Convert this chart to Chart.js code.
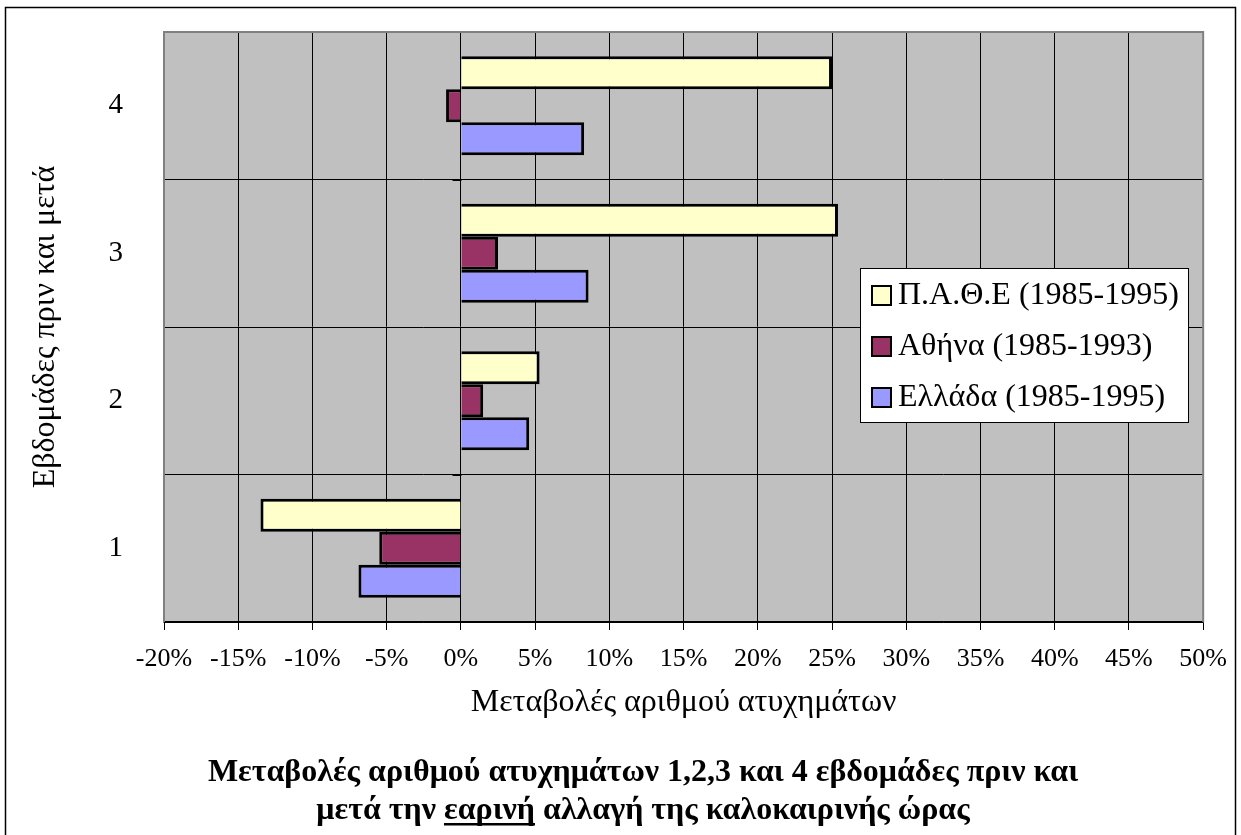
<!DOCTYPE html>
<html>
<head>
<meta charset="utf-8">
<script src="https://cdn.jsdelivr.net/npm/chart.js@4.4.1/dist/chart.umd.min.js"></script>
<style>
  html, body { margin: 0; padding: 0; background: #fff; }
  #wrap { width: 1241px; height: 835px; position: relative; }
</style>
</head>
<body>
<div id="wrap"><canvas id="chart" width="1241" height="835"></canvas></div>
<script>
// Data
const weeks = ['1', '2', '3', '4'];
const pathe = [-13.5, 5.3, 25.4, 25.0];   // Π.Α.Θ.Ε (1985-1995)
const athens = [-5.5, 1.5, 2.5, -1.0];    // Αθήνα (1985-1993)
const greece = [-6.9, 4.6, 8.6, 8.3];     // Ελλάδα (1985-1995)
const seriesNames = ['Π.Α.Θ.Ε (1985-1995)', 'Αθήνα (1985-1993)', 'Ελλάδα (1985-1995)'];
const xMin = -20, xMax = 50, xStep = 5;

const xTitle = 'Μεταβολές αριθμού ατυχημάτων';
const yTitle = 'Εβδομάδες πριν και μετά';
const titleLine1 = 'Μεταβολές αριθμού ατυχημάτων 1,2,3 και 4 εβδομάδες πριν και';
const titleLine2 = ['μετά την ', 'εαρινή', ' αλλαγή της καλοκαιρινής ώρας'];

const SERIF = "'Liberation Serif', 'Times New Roman', serif";

// Plot background + frame
const backdrop = {
    id: 'backdrop',
    beforeDraw(chart) {
        const { ctx, chartArea: a } = chart;
        ctx.save();
        ctx.fillStyle = '#fff';
        ctx.fillRect(0, 0, chart.width, chart.height);
        ctx.strokeStyle = '#000';
        ctx.lineWidth = 1.5;
        ctx.strokeRect(5.5, 7.5, 1230, 840);
        ctx.fillStyle = '#c0c0c0';
        ctx.fillRect(a.left, a.top, a.right - a.left, a.bottom - a.top);
        ctx.restore();
    },
    afterDatasetsDraw(chart) {
        const { ctx, chartArea: a, scales } = chart;
        ctx.save();
        // plot border (grey) on top, left, right
        ctx.strokeStyle = '#808080';
        ctx.lineWidth = 2;
        ctx.beginPath();
        ctx.moveTo(a.left, a.bottom);
        ctx.lineTo(a.left, a.top);
        ctx.lineTo(a.right, a.top);
        ctx.lineTo(a.right, a.bottom);
        ctx.stroke();
        // category axis crosses at 0: small ticks at band boundaries
        const x0 = Math.round(scales.x.getPixelForValue(0)) + 0.5;
        const band = (a.bottom - a.top) / weeks.length;
        ctx.strokeStyle = '#000';
        ctx.lineWidth = 1;
        ctx.beginPath();
        for (let i = 1; i < weeks.length; i++) {
            const y = Math.round(a.top + i * band) + 0.5;
            ctx.moveTo(x0 - 9, y);
            ctx.lineTo(x0, y);
        }
        ctx.stroke();
        ctx.restore();
    }
};

// Legend box inside plot
const boxLegend = {
    id: 'boxLegend',
    afterDraw(chart) {
        const { ctx } = chart;
        const bx = 860, by = 268, bw = 328, bh = 154;
        ctx.save();
        ctx.fillStyle = '#fff';
        ctx.fillRect(bx, by, bw, bh);
        ctx.strokeStyle = '#000';
        ctx.lineWidth = 1;
        ctx.strokeRect(bx + 0.5, by + 0.5, bw, bh);
        ctx.font = '32px ' + SERIF;
        ctx.textBaseline = 'middle';
        chart.data.datasets.forEach((ds, i) => {
            const cy = 295 + i * 51;
            ctx.fillStyle = ds.backgroundColor;
            ctx.fillRect(872, cy - 9, 19, 19);
            ctx.lineWidth = 2;
            ctx.strokeStyle = '#000';
            ctx.strokeRect(872, cy - 9, 19, 19);
            ctx.fillStyle = '#000';
            ctx.fillText(ds.label, 898, cy + 1);
        });
        ctx.restore();
    }
};

// Bold title under the chart, with underlined word
const bottomTitle = {
    id: 'bottomTitle',
    afterDraw(chart) {
        const { ctx } = chart;
        const cx = 643;
        ctx.save();
        ctx.font = 'bold 32px ' + SERIF;
        ctx.fillStyle = '#000';
        ctx.textBaseline = 'alphabetic';
        ctx.textAlign = 'left';
        const w1 = ctx.measureText(titleLine1).width;
        ctx.fillText(titleLine1, cx - w1 / 2, 781);
        const w2 = ctx.measureText(titleLine2.join('')).width;
        let x = cx - w2 / 2;
        const y2 = 819;
        titleLine2.forEach((part, i) => {
            const pw = ctx.measureText(part).width;
            ctx.fillText(part, x, y2);
            if (i === 1) {
                ctx.fillRect(x, y2 + 4, pw, 2.5);
            }
            x += pw;
        });
        ctx.restore();
    }
};

new Chart(document.getElementById('chart'), {
    type: 'bar',
    data: {
        labels: weeks,
        datasets: [
            { label: seriesNames[0], data: pathe, backgroundColor: '#ffffcc' },
            { label: seriesNames[1], data: athens, backgroundColor: '#993366' },
            { label: seriesNames[2], data: greece, backgroundColor: '#9999ff' }
        ]
    },
    options: {
        indexAxis: 'y',
        responsive: false,
        animation: false,
        layout: { padding: { left: 0, top: 32, right: 35, bottom: 113 } },
        datasets: {
            bar: {
                borderColor: '#000',
                borderWidth: 3,
                categoryPercentage: 0.671,
                barPercentage: 1
            }
        },
        plugins: {
            legend: { display: false },
            tooltip: { enabled: false }
        },
        scales: {
            x: {
                min: xMin,
                max: xMax,
                afterFit: s => { s.height = 100; },
                ticks: {
                    stepSize: xStep,
                    color: '#000',
                    padding: 14,
                    font: { family: SERIF, size: 26 },
                    callback: v => v + '%'
                },
                grid: { color: '#000', lineWidth: 1, tickLength: 8, tickColor: '#000' },
                border: { color: '#000', width: 1.5 },
                title: {
                    display: true,
                    text: xTitle,
                    color: '#000',
                    padding: 0,
                    font: { family: SERIF, size: 32 }
                }
            },
            y: {
                reverse: true,
                offset: true,
                afterFit: s => { s.width = 164; s.paddingTop = 0; s.paddingBottom = 0; },
                ticks: {
                    color: '#000',
                    padding: 41,
                    font: { family: SERIF, size: 29 }
                },
                grid: { color: '#000', lineWidth: 1, offset: true, drawTicks: false },
                border: { display: false },
                title: {
                    display: true,
                    text: yTitle,
                    color: '#000',
                    padding: { top: 26, bottom: 0 },
                    font: { family: SERIF, size: 32 }
                }
            }
        }
    },
    plugins: [backdrop, boxLegend, bottomTitle]
});
</script>
</body>
</html>
